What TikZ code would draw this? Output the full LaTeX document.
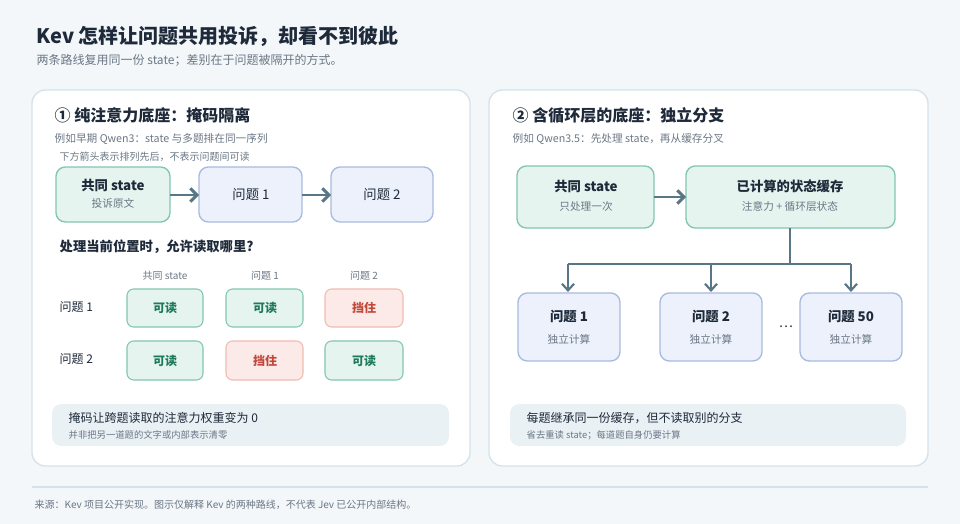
\documentclass[tikz,border=0pt]{standalone}
\usepackage{fontspec}
\setmainfont{Noto Sans CJK SC}
\usetikzlibrary{arrows.meta}
\definecolor{bg}{HTML}{F3F7FA}
\definecolor{pborder}{HTML}{D5E2EA}
\definecolor{dark}{HTML}{1E2A3A}
\definecolor{gray}{HTML}{6B7785}
\definecolor{gf}{HTML}{E5F4EF}
\definecolor{gb}{HTML}{82C6B3}
\definecolor{bf}{HTML}{EDF1FB}
\definecolor{bb}{HTML}{A9BBE0}
\definecolor{rf}{HTML}{FBEAE7}
\definecolor{rb}{HTML}{F0BCB2}
\definecolor{rt}{HTML}{C0473A}
\definecolor{gt}{HTML}{1F7A5C}
\definecolor{arr}{HTML}{587686}
\definecolor{note}{HTML}{EAF1F5}
\begin{document}
\begin{tikzpicture}[x=0.75pt,y=-0.75pt,
  panel/.style={draw=pborder,fill=white,rounded corners=10pt,line width=1pt},
  gbox/.style={draw=gb,fill=gf,rounded corners=7pt,line width=1pt},
  bbox/.style={draw=bb,fill=bf,rounded corners=7pt,line width=1pt},
  rbox/.style={draw=rb,fill=rf,rounded corners=5pt,line width=0.8pt},
  gcell/.style={draw=gb,fill=gf,rounded corners=5pt,line width=0.8pt},
  notebox/.style={fill=note,rounded corners=7pt},
  bold/.style={font=\bfseries\fontsize{10}{12}\selectfont,text=dark},
  small/.style={font=\fontsize{7.5}{9}\selectfont,text=gray},
  arrw/.style={draw=arr,line width=2.2pt,-{Straight Barb[length=5pt,width=10pt]}},
  conn/.style={draw=arr,line width=1.6pt},
  carr/.style={draw=arr,line width=1.6pt,-{Straight Barb[length=5pt,width=9pt]}}]
\fill[bg] (0,0) rectangle (960,524);
\node[anchor=west,font=\bfseries\fontsize{15}{18}\selectfont,text=dark] (title) at (32,36) {Kev 怎样让问题共用投诉，却看不到彼此};
\node[anchor=west,font=\fontsize{9}{11}\selectfont,text=gray] (sub) at (32,60) {两条路线复用同一份 state；差别在于问题被隔开的方式。};
% panels
\draw[panel] (32,90) rectangle (470,466);
\draw[panel] (489,90) rectangle (928,466);
% left panel
\node[anchor=west,font=\bfseries\fontsize{12}{14}\selectfont,text=dark] (lh) at (50,115) {① 纯注意力底座：掩码隔离};
\node[anchor=west,small,font=\fontsize{8}{10}\selectfont] (ls) at (50,139) {例如早期 Qwen3：state 与多题排在同一序列};
\node[anchor=west,small] (ln) at (55,157) {下方箭头表示排列先后，不表示问题间可读};
\draw[gbox] (56,167) rectangle (170,222);
\node[bold] (s1) at (113,185) {共同 state};
\node[small,font=\fontsize{8}{10}\selectfont] (s1b) at (113,203) {投诉原文};
\coordinate (s1r) at (170,195);
\draw[bbox] (199,167) rectangle (302,222);
\node[bold,font=\fontsize{10}{12}\selectfont] (q1) at (251,195) {问题 1};
\draw[bbox] (331,167) rectangle (433,222);
\node[bold,font=\fontsize{10}{12}\selectfont] (q2) at (382,195) {问题 2};
\coordinate (q1l) at (199,195); \coordinate (q1r) at (302,195); \coordinate (q2l) at (331,195);
\draw[arrw] (s1r) -- (q1l);
\draw[arrw] (q1r) -- (q2l);
\node[anchor=west,bold] (ask) at (55,247) {处理当前位置时，允许读取哪里?};
\node[small] (c1) at (165,276) {共同 state};
\node[small] (c2) at (265,276) {问题 1};
\node[small] (c3) at (364,276) {问题 2};
\node[anchor=west,font=\fontsize{9}{11}\selectfont,text=dark] (r1) at (55,307) {问题 1};
\node[anchor=west,font=\fontsize{9}{11}\selectfont,text=dark] (r2) at (55,359) {问题 2};
\draw[gcell] (127,289) rectangle (203,327); \node[font=\bfseries\fontsize{9}{11}\selectfont,text=gt] (a11) at (165,308) {可读};
\draw[gcell] (226,289) rectangle (303,327); \node[font=\bfseries\fontsize{9}{11}\selectfont,text=gt] (a12) at (265,308) {可读};
\draw[rbox] (325,289) rectangle (403,327); \node[font=\bfseries\fontsize{9}{11}\selectfont,text=rt] (a13) at (364,308) {挡住};
\draw[gcell] (127,341) rectangle (203,380); \node[font=\bfseries\fontsize{9}{11}\selectfont,text=gt] (a21) at (165,361) {可读};
\draw[rbox] (226,341) rectangle (303,380); \node[font=\bfseries\fontsize{9}{11}\selectfont,text=rt] (a22) at (265,361) {挡住};
\draw[gcell] (325,341) rectangle (403,380); \node[font=\bfseries\fontsize{9}{11}\selectfont,text=gt] (a23) at (364,361) {可读};
\fill[notebox] (52,404) rectangle (449,446);
\node[anchor=west,font=\fontsize{9}{11}\selectfont,text=dark] (lb1) at (64,418) {掩码让跨题读取的注意力权重变为 0};
\node[anchor=west,small,font=\fontsize{7}{9}\selectfont] (lb2) at (64,435) {并非把另一道题的文字或内部表示清零};
% right panel
\node[anchor=west,font=\bfseries\fontsize{12}{14}\selectfont,text=dark] (rh) at (508,115) {② 含循环层的底座：独立分支};
\node[anchor=west,small,font=\fontsize{8}{10}\selectfont] (rs) at (508,139) {例如 Qwen3.5：先处理 state，再从缓存分叉};
\draw[gbox] (517,166) rectangle (654,228);
\node[bold] (s2) at (586,186) {共同 state};
\node[small,font=\fontsize{8}{10}\selectfont] (s2b) at (586,206) {只处理一次};
\draw[gbox] (686,166) rectangle (895,228);
\node[bold] (cache) at (790,186) {已计算的状态缓存};
\node[small,font=\fontsize{8}{10}\selectfont] (cacheb) at (790,206) {注意力 + 循环层状态};
\coordinate (s2r) at (654,197); \coordinate (cl) at (686,197);
\draw[arrw] (s2r) -- (cl);
\coordinate (cb) at (790,228); \coordinate (cj) at (790,264);
\coordinate (b1) at (568,264); \coordinate (b2) at (711,264); \coordinate (b3) at (851,264);
\coordinate (t1) at (568,292); \coordinate (t2) at (711,292); \coordinate (t3) at (851,292);
\draw[conn] (cb) -- (cj);
\draw[conn] (b1) -- (b3);
\draw[carr] (b1) -- (t1);
\draw[carr] (b2) -- (t2);
\draw[carr] (b3) -- (t3);
\draw[bbox] (518,293) rectangle (620,361);
\node[bold] (p1) at (569,316) {问题 1};
\node[small,font=\fontsize{8}{10}\selectfont] (p1b) at (569,339) {独立计算};
\draw[bbox] (660,293) rectangle (762,361);
\node[bold] (p2) at (711,316) {问题 2};
\node[small,font=\fontsize{8}{10}\selectfont] (p2b) at (711,339) {独立计算};
\node[text=dark,font=\fontsize{10}{12}\selectfont] (dots) at (786,327) {…};
\draw[bbox] (800,293) rectangle (902,361);
\node[bold] (p3) at (851,316) {问题 50};
\node[small,font=\fontsize{8}{10}\selectfont] (p3b) at (851,339) {独立计算};
\fill[notebox] (510,404) rectangle (906,446);
\node[anchor=west,font=\fontsize{9}{11}\selectfont,text=dark] (rb1) at (522,418) {每题继承同一份缓存，但不读取别的分支};
\node[anchor=west,small,font=\fontsize{7}{9}\selectfont] (rb2) at (522,435) {省去重读 state；每道题自身仍要计算};
% footer
\draw[pborder,line width=1pt] (32,487) -- (928,487);
\node[anchor=west,small] (foot) at (30,505) {来源：Kev 项目公开实现。图示仅解释 Kev 的两种路线，不代表 Jev 已公开内部结构。};
\end{tikzpicture}
\end{document}
